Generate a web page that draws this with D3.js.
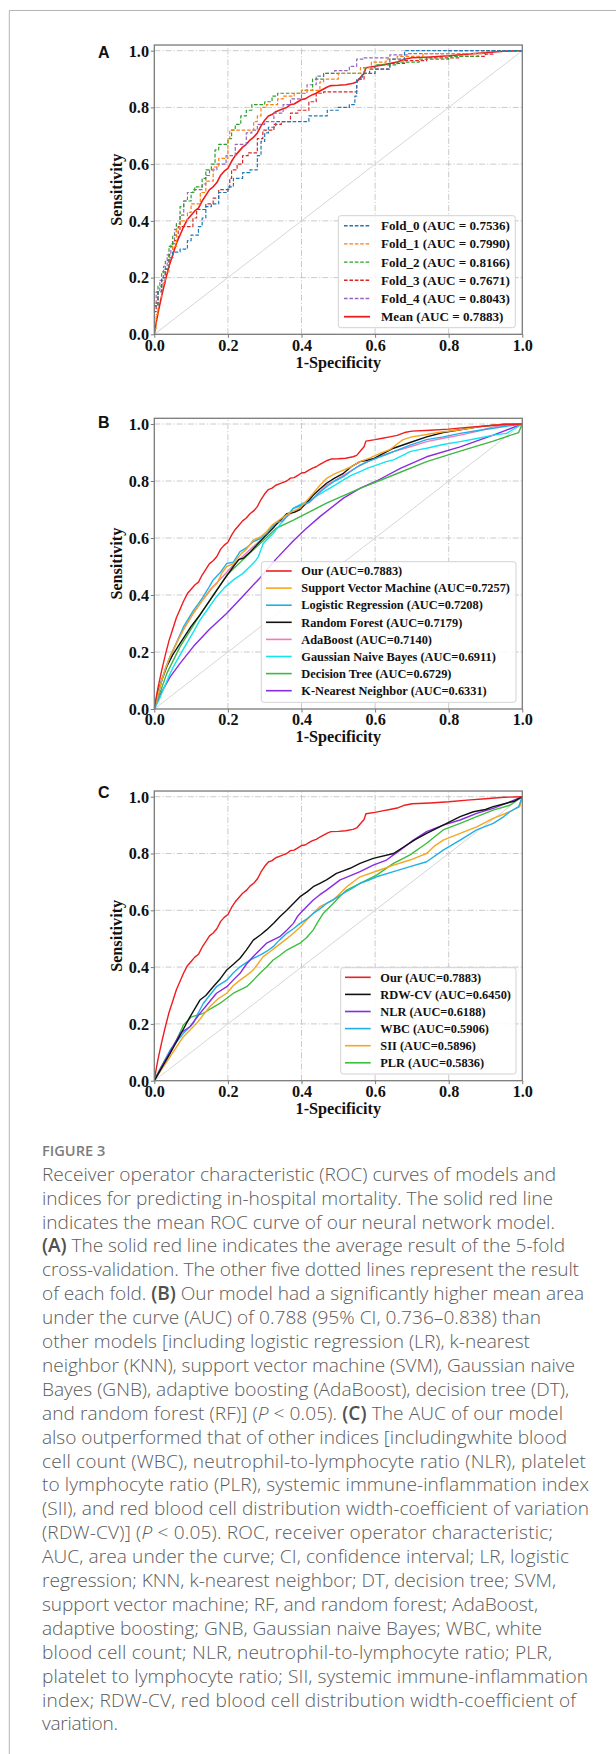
<!DOCTYPE html>
<html><head><meta charset="utf-8">
<script src="https://cdn.jsdelivr.net/npm/d3@7"></script>
<style>html,body{margin:0;padding:0;background:#fff;} svg{display:block}</style>
</head><body><svg id="fig" width="616" height="1754"></svg>
<script>
// ---------------- DATA ----------------
const xTicks = [0, 0.2, 0.4, 0.6, 0.8, 1.0];
const yTicks = [0, 0.2, 0.4, 0.6, 0.8, 1.0];

// Panel A : 5 folds (step ROC) + mean
const fold0 = [[0,0],[0,0.04],[0.01,0.1],[0.02,0.15],[0.03,0.2],[0.04,0.23],[0.05,0.27],[0.07,0.29],[0.09,0.3],[0.1,0.33],[0.12,0.35],[0.13,0.38],[0.14,0.41],[0.155,0.45],[0.175,0.46],[0.2,0.5],[0.215,0.52],[0.24,0.55],[0.26,0.57],[0.28,0.58],[0.29,0.63],[0.3,0.68],[0.31,0.71],[0.33,0.73],[0.36,0.75],[0.42,0.75],[0.43,0.77],[0.47,0.77],[0.5,0.79],[0.53,0.8],[0.545,0.81],[0.55,0.84],[0.565,0.9],[0.6,0.92],[0.64,0.935],[0.68,0.97],[0.69,1.0],[1,1]];
const fold1 = [[0,0],[0.005,0.02],[0.01,0.07],[0.02,0.13],[0.03,0.18],[0.04,0.22],[0.05,0.27],[0.06,0.31],[0.07,0.37],[0.09,0.4],[0.1,0.43],[0.125,0.46],[0.14,0.5],[0.16,0.54],[0.175,0.59],[0.2,0.62],[0.205,0.69],[0.23,0.72],[0.27,0.72],[0.28,0.75],[0.29,0.77],[0.305,0.8],[0.335,0.81],[0.35,0.83],[0.38,0.84],[0.4,0.85],[0.45,0.86],[0.46,0.89],[0.5,0.9],[0.56,0.92],[0.59,0.94],[0.63,0.96],[0.66,0.97],[0.73,0.98],[0.89,0.99],[0.9,1.0],[1,1]];
const fold2 = [[0,0],[0,0.05],[0.01,0.1],[0.02,0.17],[0.03,0.22],[0.04,0.26],[0.05,0.31],[0.06,0.35],[0.07,0.39],[0.08,0.45],[0.1,0.47],[0.11,0.5],[0.13,0.52],[0.14,0.55],[0.155,0.58],[0.165,0.6],[0.175,0.65],[0.2,0.67],[0.21,0.69],[0.22,0.72],[0.235,0.74],[0.25,0.77],[0.265,0.79],[0.3,0.81],[0.32,0.82],[0.335,0.84],[0.4,0.85],[0.43,0.86],[0.46,0.9],[0.48,0.92],[0.57,0.92],[0.6,0.94],[0.66,0.95],[0.72,0.96],[0.8,0.97],[0.88,0.98],[0.9,0.99],[1.0,1.0]];
const fold3 = [[0,0],[0,0.03],[0.005,0.08],[0.01,0.11],[0.02,0.15],[0.03,0.18],[0.04,0.23],[0.05,0.28],[0.065,0.33],[0.075,0.38],[0.105,0.38],[0.115,0.41],[0.14,0.44],[0.16,0.46],[0.175,0.48],[0.19,0.51],[0.205,0.51],[0.21,0.55],[0.225,0.58],[0.24,0.6],[0.255,0.63],[0.28,0.64],[0.295,0.69],[0.325,0.72],[0.345,0.74],[0.37,0.75],[0.39,0.78],[0.42,0.79],[0.44,0.82],[0.46,0.85],[0.55,0.855],[0.57,0.9],[0.585,0.92],[0.64,0.935],[0.68,0.955],[0.74,0.965],[0.83,0.975],[0.9,0.98],[0.92,0.988],[1,1]];
const fold4 = [[0,0],[0,0.04],[0.005,0.1],[0.015,0.15],[0.025,0.19],[0.035,0.24],[0.045,0.28],[0.055,0.32],[0.07,0.37],[0.08,0.42],[0.09,0.47],[0.105,0.5],[0.13,0.51],[0.14,0.53],[0.15,0.56],[0.17,0.58],[0.195,0.6],[0.22,0.63],[0.25,0.67],[0.265,0.71],[0.28,0.72],[0.3,0.74],[0.325,0.75],[0.35,0.78],[0.37,0.81],[0.4,0.83],[0.415,0.85],[0.44,0.88],[0.46,0.91],[0.49,0.92],[0.53,0.93],[0.55,0.945],[0.57,0.97],[0.64,0.975],[0.69,0.985],[0.8,0.99],[0.83,1.0],[1,1]];
// Mean ROC of our model (same curve used as "Our" in B and C)
const ourCurve = [[0,0],[0.005,0.04],[0.01,0.075],[0.015,0.105],[0.02,0.135],[0.03,0.19],[0.04,0.24],[0.05,0.28],[0.06,0.32],[0.07,0.35],[0.08,0.38],[0.09,0.405],[0.1,0.42],[0.11,0.435],[0.12,0.445],[0.13,0.47],[0.14,0.49],[0.15,0.51],[0.16,0.52],[0.17,0.535],[0.18,0.56],[0.19,0.575],[0.2,0.585],[0.21,0.61],[0.22,0.63],[0.23,0.645],[0.24,0.66],[0.25,0.67],[0.26,0.685],[0.27,0.695],[0.28,0.71],[0.29,0.735],[0.3,0.755],[0.31,0.77],[0.32,0.775],[0.33,0.785],[0.34,0.79],[0.35,0.795],[0.36,0.8],[0.37,0.81],[0.38,0.812],[0.39,0.82],[0.4,0.828],[0.41,0.83],[0.42,0.838],[0.43,0.845],[0.44,0.85],[0.45,0.858],[0.46,0.865],[0.47,0.872],[0.48,0.877],[0.5,0.878],[0.52,0.88],[0.54,0.885],[0.55,0.89],[0.56,0.905],[0.57,0.92],[0.575,0.94],[0.6,0.945],[0.62,0.95],[0.64,0.955],[0.66,0.96],[0.68,0.97],[0.7,0.975],[0.75,0.978],[0.8,0.982],[0.85,0.988],[0.9,0.993],[0.95,0.998],[1,1]];
const legendA = ["Fold_0 (AUC = 0.7536)","Fold_1 (AUC = 0.7990)","Fold_2 (AUC = 0.8166)","Fold_3 (AUC = 0.7671)","Fold_4 (AUC = 0.8043)","Mean (AUC = 0.7883)"];

// Panel B : models
const svmCurve = [[0,0],[0.01,0.05],[0.02,0.1],[0.03,0.14],[0.043,0.184],[0.06,0.23],[0.08,0.28],[0.106,0.336],[0.13,0.38],[0.151,0.418],[0.17,0.44],[0.185,0.48],[0.197,0.5],[0.215,0.51],[0.237,0.546],[0.25,0.56],[0.269,0.593],[0.29,0.605],[0.305,0.622],[0.32,0.645],[0.341,0.665],[0.37,0.69],[0.396,0.705],[0.42,0.74],[0.432,0.757],[0.45,0.785],[0.468,0.809],[0.49,0.825],[0.514,0.838],[0.535,0.85],[0.559,0.868],[0.585,0.88],[0.613,0.897],[0.64,0.91],[0.66,0.93],[0.676,0.945],[0.7,0.955],[0.74,0.963],[0.78,0.972],[0.831,0.98],[0.88,0.99],[0.921,0.996],[0.96,1.0],[1,1]];
const lrCurve = [[0,0],[0.01,0.05],[0.02,0.1],[0.03,0.14],[0.043,0.184],[0.06,0.23],[0.08,0.29],[0.106,0.345],[0.12,0.37],[0.133,0.394],[0.15,0.43],[0.16,0.453],[0.18,0.48],[0.197,0.511],[0.215,0.515],[0.233,0.552],[0.25,0.565],[0.269,0.587],[0.29,0.6],[0.305,0.616],[0.32,0.64],[0.332,0.655],[0.35,0.66],[0.378,0.704],[0.4,0.715],[0.423,0.727],[0.445,0.755],[0.468,0.78],[0.49,0.8],[0.514,0.815],[0.535,0.835],[0.559,0.856],[0.58,0.868],[0.604,0.88],[0.63,0.893],[0.65,0.903],[0.695,0.926],[0.74,0.945],[0.785,0.955],[0.831,0.967],[0.88,0.977],[0.921,0.985],[0.96,0.993],[1,1]];
const rfCurve = [[0,0],[0.01,0.06],[0.02,0.1],[0.034,0.149],[0.05,0.19],[0.07,0.23],[0.1,0.29],[0.124,0.33],[0.145,0.37],[0.169,0.415],[0.19,0.455],[0.215,0.5],[0.23,0.525],[0.242,0.529],[0.26,0.55],[0.278,0.575],[0.3,0.605],[0.323,0.635],[0.34,0.66],[0.36,0.685],[0.38,0.69],[0.396,0.7],[0.415,0.725],[0.432,0.75],[0.45,0.772],[0.468,0.792],[0.49,0.81],[0.514,0.827],[0.535,0.85],[0.559,0.868],[0.575,0.872],[0.595,0.878],[0.62,0.895],[0.65,0.915],[0.695,0.935],[0.74,0.955],[0.785,0.97],[0.831,0.98],[0.88,0.99],[0.921,0.996],[0.96,1.0],[1,1]];
const adaCurve = [[0,0],[0.01,0.05],[0.02,0.1],[0.03,0.14],[0.043,0.184],[0.07,0.26],[0.106,0.336],[0.13,0.38],[0.16,0.43],[0.19,0.47],[0.215,0.505],[0.24,0.535],[0.269,0.57],[0.3,0.605],[0.323,0.64],[0.35,0.665],[0.378,0.692],[0.4,0.71],[0.423,0.727],[0.445,0.755],[0.468,0.786],[0.495,0.805],[0.523,0.827],[0.55,0.848],[0.577,0.866],[0.61,0.885],[0.65,0.903],[0.7,0.922],[0.74,0.938],[0.785,0.95],[0.831,0.961],[0.88,0.975],[0.921,0.99],[0.96,0.996],[1,1]];
const gnbCurve = [[0,0],[0.012,0.03],[0.024,0.067],[0.038,0.11],[0.052,0.149],[0.07,0.19],[0.088,0.23],[0.106,0.27],[0.124,0.312],[0.145,0.35],[0.169,0.394],[0.19,0.425],[0.215,0.453],[0.24,0.475],[0.26,0.5],[0.275,0.52],[0.283,0.535],[0.29,0.56],[0.296,0.581],[0.31,0.6],[0.323,0.616],[0.35,0.66],[0.378,0.705],[0.4,0.72],[0.423,0.733],[0.445,0.75],[0.468,0.768],[0.49,0.785],[0.514,0.804],[0.535,0.82],[0.559,0.833],[0.58,0.845],[0.604,0.856],[0.63,0.868],[0.65,0.874],[0.675,0.89],[0.695,0.903],[0.72,0.91],[0.74,0.915],[0.785,0.928],[0.831,0.938],[0.88,0.95],[0.921,0.961],[0.957,0.967],[0.98,0.985],[1,1]];
const dtCurve = [[0,0],[0.034,0.125],[0.07,0.219],[0.124,0.33],[0.197,0.47],[0.287,0.58],[0.332,0.635],[0.378,0.663],[0.468,0.722],[0.559,0.774],[0.65,0.821],[0.74,0.868],[0.831,0.905],[0.921,0.94],[0.99,0.97],[1,1]];
const knnCurve = [[0,0],[0.02,0.06],[0.043,0.113],[0.07,0.16],[0.106,0.219],[0.15,0.28],[0.197,0.336],[0.24,0.395],[0.287,0.46],[0.33,0.525],[0.378,0.59],[0.41,0.63],[0.45,0.675],[0.514,0.74],[0.56,0.775],[0.604,0.8],[0.67,0.845],[0.74,0.885],[0.831,0.92],[0.921,0.961],[1,1]];
const legendB = ["Our (AUC=0.7883)","Support Vector Machine (AUC=0.7257)","Logistic Regression (AUC=0.7208)","Random Forest (AUC=0.7179)","AdaBoost (AUC=0.7140)","Gaussian Naive Bayes (AUC=0.6911)","Decision Tree (AUC=0.6729)","K-Nearest Neighbor (AUC=0.6331)"];

// Panel C : indices
const rdwCurve = [[0,0],[0.02,0.045],[0.043,0.096],[0.07,0.16],[0.097,0.225],[0.124,0.284],[0.14,0.3],[0.16,0.331],[0.18,0.36],[0.197,0.39],[0.215,0.41],[0.233,0.431],[0.25,0.46],[0.269,0.495],[0.29,0.515],[0.305,0.531],[0.325,0.555],[0.341,0.577],[0.36,0.6],[0.378,0.624],[0.396,0.648],[0.415,0.665],[0.432,0.683],[0.45,0.695],[0.468,0.707],[0.495,0.73],[0.515,0.74],[0.532,0.748],[0.559,0.765],[0.595,0.783],[0.65,0.8],[0.686,0.83],[0.71,0.85],[0.74,0.871],[0.785,0.9],[0.831,0.93],[0.867,0.947],[0.9,0.955],[0.921,0.965],[0.957,0.977],[0.98,0.985],[1,1]];
const nlrCurve = [[0,0],[0.02,0.05],[0.043,0.102],[0.07,0.167],[0.097,0.19],[0.124,0.237],[0.145,0.27],[0.169,0.308],[0.197,0.331],[0.215,0.355],[0.233,0.378],[0.25,0.41],[0.269,0.437],[0.29,0.465],[0.305,0.484],[0.341,0.507],[0.36,0.53],[0.378,0.554],[0.39,0.58],[0.405,0.601],[0.432,0.636],[0.45,0.655],[0.468,0.671],[0.505,0.707],[0.53,0.72],[0.559,0.736],[0.595,0.759],[0.631,0.777],[0.65,0.795],[0.668,0.812],[0.704,0.847],[0.74,0.877],[0.785,0.9],[0.831,0.918],[0.876,0.941],[0.921,0.959],[0.966,0.982],[1,1]];
const wbcCurve = [[0,0],[0.02,0.05],[0.043,0.108],[0.079,0.167],[0.106,0.202],[0.12,0.24],[0.133,0.272],[0.15,0.3],[0.169,0.331],[0.197,0.354],[0.215,0.38],[0.233,0.401],[0.26,0.425],[0.287,0.442],[0.305,0.455],[0.323,0.472],[0.34,0.495],[0.36,0.519],[0.378,0.535],[0.396,0.554],[0.415,0.57],[0.432,0.589],[0.45,0.605],[0.468,0.624],[0.49,0.64],[0.514,0.66],[0.535,0.675],[0.559,0.695],[0.58,0.705],[0.604,0.718],[0.65,0.736],[0.695,0.754],[0.74,0.771],[0.785,0.812],[0.831,0.847],[0.876,0.883],[0.921,0.906],[0.95,0.93],[0.966,0.947],[0.99,0.965],[1,1]];
const siiCurve = [[0,0],[0.02,0.04],[0.043,0.085],[0.079,0.155],[0.115,0.202],[0.151,0.261],[0.175,0.29],[0.197,0.308],[0.215,0.335],[0.233,0.354],[0.25,0.37],[0.269,0.39],[0.296,0.437],[0.315,0.455],[0.332,0.472],[0.355,0.495],[0.378,0.519],[0.396,0.54],[0.414,0.566],[0.432,0.59],[0.45,0.613],[0.486,0.636],[0.505,0.66],[0.523,0.683],[0.559,0.718],[0.613,0.742],[0.65,0.759],[0.695,0.777],[0.72,0.79],[0.74,0.8],[0.76,0.825],[0.785,0.847],[0.831,0.871],[0.876,0.894],[0.921,0.924],[0.966,0.947],[0.993,0.965],[1,1]];
const plrCurve = [[0,0],[0.015,0.04],[0.034,0.085],[0.061,0.143],[0.079,0.196],[0.101,0.225],[0.133,0.237],[0.155,0.255],[0.178,0.272],[0.215,0.308],[0.251,0.331],[0.27,0.355],[0.287,0.378],[0.305,0.4],[0.323,0.425],[0.34,0.44],[0.36,0.46],[0.396,0.484],[0.415,0.505],[0.432,0.531],[0.445,0.56],[0.459,0.589],[0.486,0.624],[0.505,0.65],[0.523,0.671],[0.559,0.695],[0.604,0.724],[0.65,0.765],[0.695,0.795],[0.74,0.836],[0.785,0.883],[0.831,0.906],[0.876,0.93],[0.921,0.953],[0.966,0.97],[1,1]];
const legendC = ["Our (AUC=0.7883)","RDW-CV (AUC=0.6450)","NLR (AUC=0.6188)","WBC (AUC=0.5906)","SII (AUC=0.5896)","PLR (AUC=0.5836)"];

const captionTitle = "FIGURE 3";
const captionLines = [
"Receiver operator characteristic (ROC) curves of models and",
"indices for predicting in-hospital mortality. The solid red line",
"indicates the mean ROC curve of our neural network model.",
"**(A)** The solid red line indicates the average result of the 5-fold",
"cross-validation. The other five dotted lines represent the result",
"of each fold. **(B)** Our model had a significantly higher mean area",
"under the curve (AUC) of 0.788 (95% CI, 0.736\u20130.838) than",
"other models [including logistic regression (LR), k-nearest",
"neighbor (KNN), support vector machine (SVM), Gaussian naive",
"Bayes (GNB), adaptive boosting (AdaBoost), decision tree (DT),",
"and random forest (RF)] (_P_ < 0.05). **(C)** The AUC of our model",
"also outperformed that of other indices [includingwhite blood",
"cell count (WBC), neutrophil-to-lymphocyte ratio (NLR), platelet",
"to lymphocyte ratio (PLR), systemic immune-inflammation index",
"(SII), and red blood cell distribution width-coefficient of variation",
"(RDW-CV)] (_P_ < 0.05). ROC, receiver operator characteristic;",
"AUC, area under the curve; CI, confidence interval; LR, logistic",
"regression; KNN, k-nearest neighbor; DT, decision tree; SVM,",
"support vector machine; RF, and random forest; AdaBoost,",
"adaptive boosting; GNB, Gaussian naive Bayes; WBC, white",
"blood cell count; NLR, neutrophil-to-lymphocyte ratio; PLR,",
"platelet to lymphocyte ratio; SII, systemic immune-inflammation",
"index; RDW-CV, red blood cell distribution width-coefficient of",
"variation."
];
// measured rendered width of each caption line in the reference (layout)
const captionWidths = [514,511,513,523,537,542,499,488,533,527,521,525,544,547,547,511,527,514,496,500,510,546,534,76];

// ---------------- DRAWING ----------------
const svg = d3.select("#fig");
const SERIF = "'Liberation Serif','Times New Roman',serif";
const CAP = "'Open Sans',Lato,'Noto Sans',sans-serif";
svg.append("rect").attr("width",616).attr("height",1754).attr("fill","#fff");

function fitSize(family, weight, str, target) {
  const t = svg.append("text").attr("font-family",family).attr("font-weight",weight).attr("font-size",100).text(str);
  const w = t.node().getComputedTextLength(); t.remove();
  return w > 0 ? 100*target/w : 16;
}
const FS_AXIS = Math.min(17.5, Math.max(14, fitSize(SERIF,"bold","1-Specificity",85.5)));
const FS_LEG_A = Math.min(14.5, Math.max(11, fitSize(SERIF,"bold",legendA[0],129)));
const FS_LEG_BC = Math.min(14, Math.max(10.5, fitSize(SERIF,"bold",legendB[1],209)));

// page frame
svg.append("line").attr("x1",9.3).attr("x2",616).attr("y1",10.5).attr("y2",10.5).attr("stroke","#b4b4b4").attr("stroke-width",1);
svg.append("line").attr("x1",9.3).attr("x2",9.3).attr("y1",10.5).attr("y2",1754).attr("stroke","#b4b4b4").attr("stroke-width",1);

const X0 = 154.3, X1 = 522.3;

function drawPanel(cfg) {
  const g = svg.append("g");
  const x = d3.scaleLinear().domain([0,1]).range([X0, X1]);
  const y = d3.scaleLinear().domain([0,1.02]).range([cfg.y0, cfg.y0 - 1.02*cfg.h]);
  // grid
  g.append("g").selectAll("line").data(xTicks.filter(t=>t>0&&t<1)).join("line")
    .attr("x1",d=>x(d)).attr("x2",d=>x(d)).attr("y1",y(0)).attr("y2",y(1.02))
    .attr("stroke","#c4c4c4").attr("stroke-width",0.9).attr("stroke-dasharray","6,2,1.2,2");
  g.append("g").selectAll("line").data(yTicks.filter(t=>t>0)).join("line")
    .attr("y1",d=>y(d)).attr("y2",d=>y(d)).attr("x1",x(0)).attr("x2",x(1))
    .attr("stroke","#c4c4c4").attr("stroke-width",0.9).attr("stroke-dasharray","6,2,1.2,2");
  // diagonal
  g.append("line").attr("x1",x(0)).attr("y1",y(0)).attr("x2",x(1)).attr("y2",y(1))
    .attr("stroke","#d6d6d6").attr("stroke-width",1);
  // curves
  const clip = "clip"+cfg.id;
  g.append("clipPath").attr("id",clip).append("rect").attr("x",x(0)).attr("y",y(1.02)).attr("width",x(1)-x(0)).attr("height",y(0)-y(1.02));
  const cg = g.append("g").attr("clip-path",`url(#${clip})`);
  cfg.series.slice().reverse().forEach(s=>{
    const line = d3.line().x(d=>x(d[0])).y(d=>y(d[1])).curve(s.step ? d3.curveStepBefore : d3.curveLinear);
    cg.append("path").attr("d",line(s.data)).attr("fill","none").attr("stroke",s.color)
      .attr("stroke-width",s.width).attr("stroke-dasharray",s.dash||null).attr("stroke-linejoin","round");
  });
  // frame
  g.append("rect").attr("x",x(0)).attr("y",y(1.02)).attr("width",x(1)-x(0)).attr("height",y(0)-y(1.02))
    .attr("fill","none").attr("stroke","#7a7a7a").attr("stroke-width",1.3);
  // axes
  const ax = g.append("g").attr("transform",`translate(0,${y(0)})`)
    .call(d3.axisBottom(x).tickValues(xTicks).tickFormat(d3.format(".1f")).tickSize(3.5).tickPadding(1.5));
  const ay = g.append("g").attr("transform",`translate(${x(0)},0)`)
    .call(d3.axisLeft(y).tickValues(yTicks).tickFormat(d3.format(".1f")).tickSize(3.5).tickPadding(1.8));
  [ax,ay].forEach(a=>{
    a.attr("font-size",FS_AXIS).attr("font-family",SERIF);
    a.select(".domain").remove();
    a.selectAll(".tick line").attr("stroke","#7a7a7a").attr("stroke-width",1);
    a.selectAll("text").attr("font-family",SERIF).attr("font-weight","bold").attr("font-size",FS_AXIS).attr("fill","#111");
  });
  ax.selectAll("text").attr("dy",null).attr("y",16.4);
  ay.selectAll("text").attr("dy",null).attr("y",5.3);
  // axis labels
  g.append("text").attr("x",(X0+X1)/2).attr("y",y(0)+33.2).attr("text-anchor","middle")
    .attr("font-family",SERIF).attr("font-weight","bold").attr("font-size",FS_AXIS).attr("fill","#111").text("1-Specificity");
  g.append("text").attr("transform",`translate(122.3,${(y(0)+y(1.02))/2}) rotate(-90)`).attr("text-anchor","middle")
    .attr("font-family",SERIF).attr("font-weight","bold").attr("font-size",FS_AXIS).attr("fill","#111").text("Sensitivity");
  // panel letter
  g.append("text").attr("x",98).attr("y",cfg.letterY).attr("font-family","'Liberation Sans',Arial,sans-serif")
    .attr("font-weight","bold").attr("font-size",16).attr("fill","#111").text(cfg.id);
  // legend
  const L = cfg.legend;
  g.append("rect").attr("x",L.x).attr("y",L.y).attr("width",L.w).attr("height",L.h).attr("rx",2.5)
    .attr("fill","#fff").attr("fill-opacity",0.85).attr("stroke","#d2d2d2").attr("stroke-width",1);
  cfg.series.forEach((s,i)=>{
    const cy = L.first + i*L.step;
    g.append("line").attr("x1",L.hx0).attr("x2",L.hx1).attr("y1",cy).attr("y2",cy)
      .attr("stroke",s.color).attr("stroke-width",s.width+0.2).attr("stroke-dasharray",s.dash||null);
    g.append("text").attr("x",L.tx).attr("y",cy+L.fs*0.34).attr("font-family",SERIF).attr("font-weight","bold")
      .attr("font-size",L.fs).attr("fill","#111").text(s.label);
  });
}

const RED = "#ee1d1f";
drawPanel({id:"A", y0:334.3, h:283.6, letterY:58.3,
  legend:{x:338.3,y:215.7,w:177,h:112,first:225.7,step:18.2,hx0:344,hx1:370,tx:381,fs:FS_LEG_A},
  series:[
    {data:fold0,color:"#1f77b4",width:1.2,dash:"3.6,1.8",step:true,label:legendA[0]},
    {data:fold1,color:"#ff7f0e",width:1.2,dash:"3.6,1.8",step:true,label:legendA[1]},
    {data:fold2,color:"#2ca02c",width:1.2,dash:"3.6,1.8",step:true,label:legendA[2]},
    {data:fold3,color:"#d62728",width:1.2,dash:"3.6,1.8",step:true,label:legendA[3]},
    {data:fold4,color:"#9467bd",width:1.2,dash:"3.6,1.8",step:true,label:legendA[4]},
    {data:ourCurve,color:RED,width:1.6,label:legendA[5]}
  ]});
drawPanel({id:"B", y0:709, h:285, letterY:428.3,
  legend:{x:261.3,y:561.7,w:254.7,h:140.6,first:571,step:17.1,hx0:266,hx1:291.7,tx:301.3,fs:FS_LEG_BC},
  series:[
    {data:ourCurve,color:RED,width:1.4,label:legendB[0]},
    {data:svmCurve,color:"#f5a623",width:1.4,label:legendB[1]},
    {data:lrCurve,color:"#1fb0ea",width:1.4,label:legendB[2]},
    {data:rfCurve,color:"#111111",width:1.4,label:legendB[3]},
    {data:adaCurve,color:"#f07ac0",width:1.4,label:legendB[4]},
    {data:gnbCurve,color:"#12e4f0",width:1.4,label:legendB[5]},
    {data:dtCurve,color:"#3cb843",width:1.4,label:legendB[6]},
    {data:knnCurve,color:"#8a2be2",width:1.4,label:legendB[7]}
  ]});
drawPanel({id:"C", y0:1080.7, h:284, letterY:798.3,
  legend:{x:340.7,y:967.7,w:175.3,h:106.3,first:977.3,step:17.1,hx0:345,hx1:370.7,tx:380.3,fs:FS_LEG_BC},
  series:[
    {data:ourCurve,color:RED,width:1.4,label:legendC[0]},
    {data:rdwCurve,color:"#111111",width:1.4,label:legendC[1]},
    {data:nlrCurve,color:"#8a2be2",width:1.4,label:legendC[2]},
    {data:wbcCurve,color:"#1fb0ea",width:1.4,label:legendC[3]},
    {data:siiCurve,color:"#f5a623",width:1.4,label:legendC[4]},
    {data:plrCurve,color:"#3cc03c",width:1.4,label:legendC[5]}
  ]});

// ---------------- CAPTION ----------------
const FS_CAP = Math.min(20, Math.max(15, fitSize(CAP,300,captionLines[0],514)));
const FS_TITLE = Math.min(18, Math.max(12, fitSize(CAP,600,captionTitle,63.3)));
svg.append("text").attr("x",42).attr("y",1155.7).attr("font-family",CAP).attr("font-weight",600)
  .attr("font-size",FS_TITLE).attr("fill","#7c7c7c").text(captionTitle);
const capG = svg.append("g");
captionLines.forEach((ln,i)=>{
  const t = capG.append("text").attr("x",42).attr("y",1180.7 + i*23.9)
    .attr("font-family",CAP).attr("font-weight",300).attr("font-size",FS_CAP).attr("fill","#5a5a5a");
  const parts = ln.split(/(\*\*[^*]+\*\*|_[^_]+_)/).filter(p=>p.length);
  parts.forEach(p=>{
    if (p.startsWith("**")) t.append("tspan").attr("font-weight",600).attr("fill","#505050").text(p.slice(2,-2));
    else if (p.startsWith("_")) t.append("tspan").attr("font-style","italic").text(p.slice(1,-1));
    else t.append("tspan").text(p);
  });
  const w = t.node().getComputedTextLength();
  if (w > 0 && Math.abs(w - captionWidths[i]) / captionWidths[i] < 0.08) {
    t.attr("textLength", captionWidths[i]).attr("lengthAdjust","spacing");
  }
});
</script></body></html>
